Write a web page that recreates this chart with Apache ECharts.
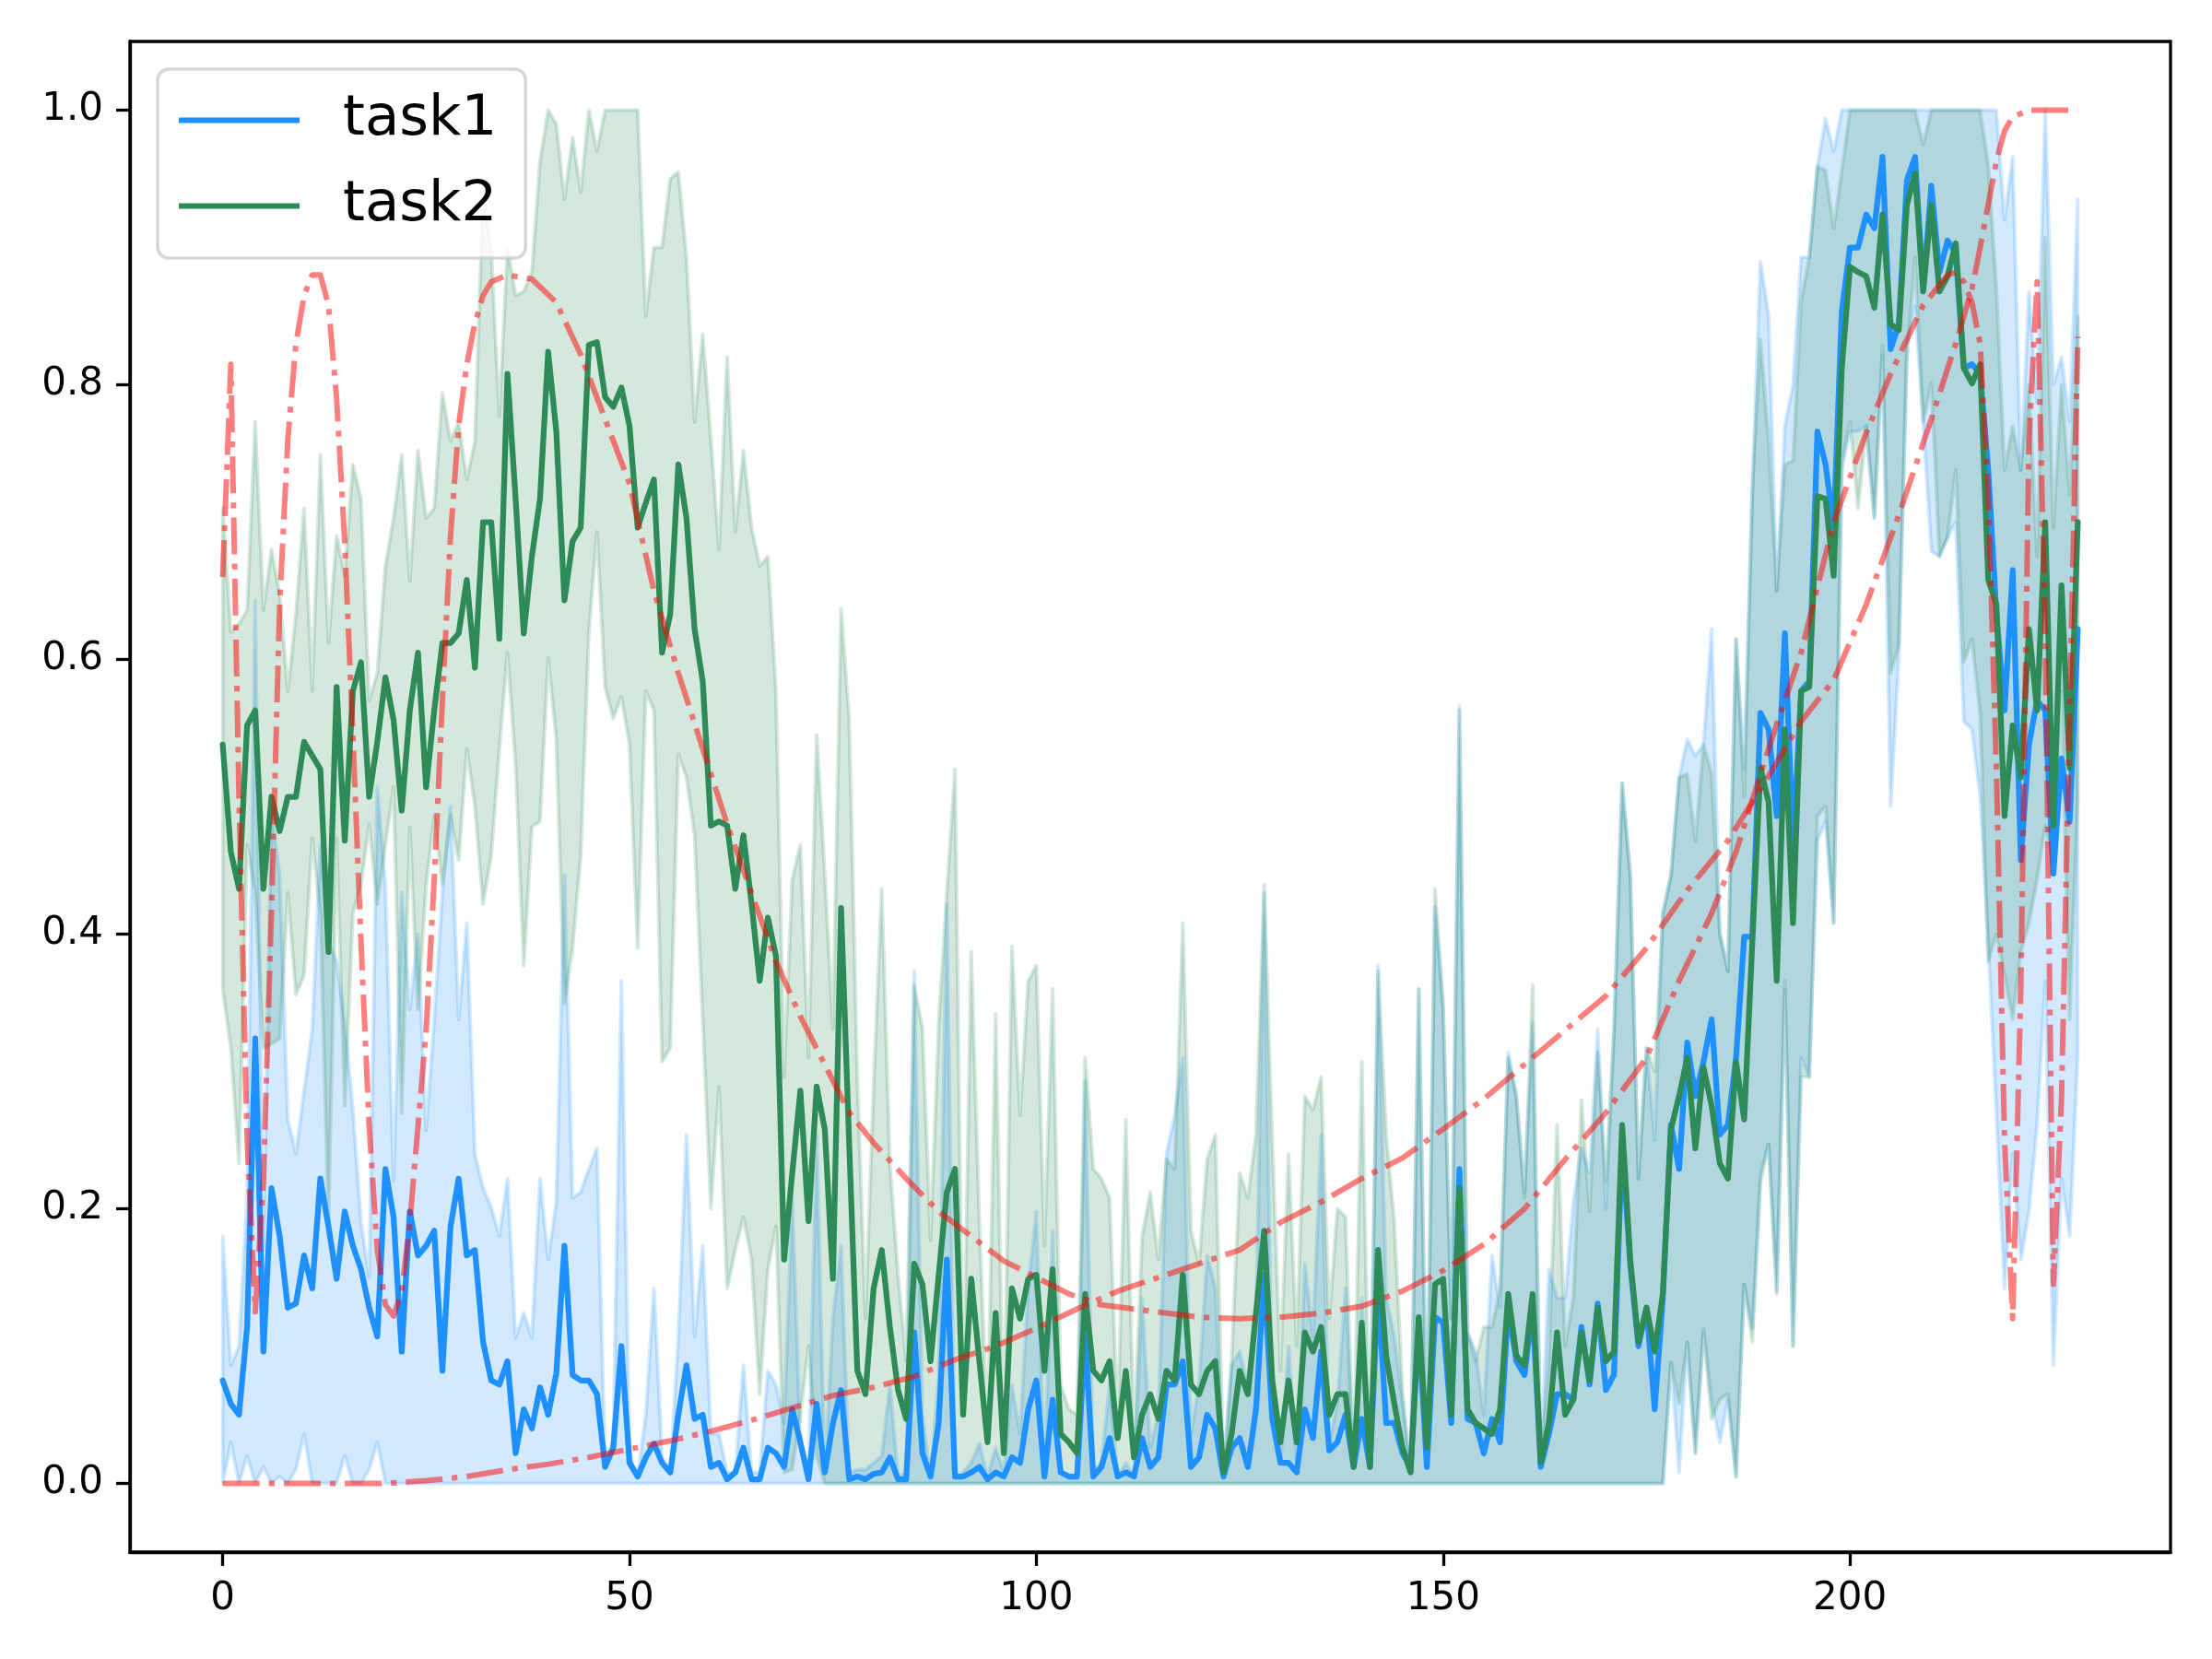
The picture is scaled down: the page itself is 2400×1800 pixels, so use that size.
<!DOCTYPE html>
<html>
<head>
<meta charset="utf-8">
<script src="https://cdn.jsdelivr.net/npm/echarts@6/dist/echarts.min.js"></script>
<style>
html,body{margin:0;padding:0;background:#ffffff;}
#chart{width:2400px;height:1800px;}
</style>
</head>
<body>
<div id="chart"></div>
<script>
// ---- data (x = step index 0..228) ----
const task1Mean = [
0.075,0.058,0.05,0.114,0.324,0.096,0.215,0.18,0.128,0.131,
0.166,0.142,0.222,0.187,0.149,0.198,0.173,0.156,0.128,0.107,
0.229,0.194,0.096,0.198,0.166,0.173,0.184,0.082,0.187,0.222,
0.166,0.17,0.103,0.075,0.072,0.089,0.022,0.054,0.04,0.07,
0.05,0.08,0.173,0.079,0.075,0.075,0.065,0.012,0.026,0.1,
0.015,0.005,0.019,0.029,0.015,0.008,0.05,0.086,0.047,0.05,
0.012,0.015,0.003,0.008,0.026,0.003,0.003,0.026,0.022,0.012,
0.054,0.03,0.003,0.058,0.008,0.044,0.068,0.003,0.005,0.003,
0.007,0.008,0.019,0.003,0.003,0.11,0.022,0.005,0.044,0.163,
0.005,0.005,0.008,0.012,0.003,0.008,0.005,0.019,0.015,0.054,
0.075,0.005,0.061,0.008,0.005,0.005,0.107,0.005,0.012,0.033,
0.005,0.008,0.005,0.033,0.012,0.019,0.072,0.072,0.089,0.012,
0.019,0.05,0.04,0.005,0.026,0.033,0.012,0.054,0.152,0.047,
0.015,0.015,0.008,0.054,0.033,0.096,0.024,0.03,0.05,0.012,
0.047,0.012,0.142,0.044,0.044,0.022,0.012,0.114,0.012,0.121,
0.117,0.044,0.229,0.047,0.044,0.022,0.047,0.03,0.128,0.089,
0.079,0.128,0.012,0.036,0.065,0.065,0.061,0.114,0.072,0.131,
0.068,0.079,0.247,0.159,0.1,0.128,0.054,0.135,0.261,0.229,
0.321,0.282,0.307,0.338,0.254,0.261,0.31,0.398,0.398,0.561,
0.549,0.486,0.619,0.465,0.577,0.584,0.766,0.742,0.696,0.854,
0.9,0.9,0.924,0.914,0.966,0.826,0.844,0.949,0.966,0.87,
0.945,0.882,0.905,0.896,0.812,0.815,0.808,0.738,0.633,0.563,
0.665,0.454,0.538,0.57,0.563,0.444,0.528,0.482,0.622];

const task1High = [
0.18,0.086,0.1,0.21,0.643,0.17,0.49,0.443,0.265,0.24,
0.286,0.33,0.465,0.394,0.38,0.335,0.272,0.19,0.15,0.507,
0.436,0.22,0.43,0.345,0.4,0.257,0.338,0.43,0.493,0.338,
0.408,0.24,0.215,0.201,0.18,0.222,0.106,0.124,0.106,0.222,
0.163,0.205,0.443,0.208,0.212,0.229,0.244,0.015,0.03,0.366,
0.022,0.005,0.05,0.142,0.019,0.008,0.107,0.254,0.107,0.173,
0.036,0.036,0.008,0.008,0.086,0.008,0.008,0.082,0.072,0.044,
0.208,0.03,0.008,0.254,0.008,0.12,0.173,0.008,0.01,0.01,
0.015,0.02,0.072,0.005,0.008,0.373,0.05,0.005,0.079,0.422,
0.005,0.008,0.015,0.029,0.005,0.026,0.008,0.072,0.036,0.142,
0.198,0.008,0.184,0.008,0.005,0.005,0.293,0.008,0.015,0.072,
0.005,0.015,0.005,0.135,0.026,0.05,0.24,0.268,0.31,0.036,
0.072,0.166,0.142,0.005,0.086,0.096,0.07,0.12,0.43,0.05,
0.015,0.1,0.015,0.16,0.107,0.254,0.03,0.058,0.142,0.012,
0.135,0.015,0.377,0.135,0.107,0.058,0.008,0.36,0.026,0.42,
0.345,0.12,0.566,0.11,0.096,0.05,0.166,0.128,0.314,0.282,
0.212,0.335,0.015,0.156,0.135,0.135,0.205,0.244,0.226,0.331,
0.2,0.33,0.51,0.443,0.222,0.317,0.25,0.415,0.443,0.514,
0.542,0.53,0.538,0.622,0.401,0.373,0.615,0.52,0.724,0.89,
0.85,0.65,0.77,0.8,0.893,0.893,0.959,0.994,0.97,1.0,
1.0,1.0,1.0,1.0,1.0,1.0,1.0,1.0,1.0,1.0,
1.0,1.0,1.0,1.0,1.0,1.0,1.0,1.0,1.0,0.92,
0.966,0.738,0.868,0.787,1.0,0.8,0.82,0.773,0.935];

const task1Low = [
0,0.03,0,0.02,0,0.012,0,0.005,0,0.01,
0.036,0,0,0,0,0.02,0,0,0.01,0.03,
0,0,0,0,0,0,0,0,0,0,
0,0,0,0,0,0,0,0,0,0,
0,0,0,0,0,0,0,0,0,0,
0,0,0,0,0,0,0,0,0,0,
0,0,0,0,0,0,0,0,0,0,
0,0,0,0,0,0,0,0,0,0,
0,0,0,0,0,0,0,0,0,0,
0,0,0,0,0,0,0,0,0,0,
0,0,0,0,0,0,0,0,0,0,
0,0,0,0,0,0,0,0,0,0,
0,0,0,0,0,0,0,0,0,0,
0,0,0,0,0,0,0,0,0,0,
0,0,0,0,0,0,0,0,0,0,
0,0,0,0,0,0,0,0,0,0,
0,0,0,0,0,0,0,0,0,0,
0,0,0,0,0,0,0,0,0.088,0.008,
0.103,0.022,0.113,0.061,0.03,0.061,0.005,0.145,0.113,0.226,
0.247,0.14,0.366,0.1,0.31,0.296,0.468,0.482,0.408,0.738,
0.766,0.766,0.77,0.703,0.822,0.493,0.6,0.829,0.857,0.773,
0.679,0.675,0.689,0.7,0.555,0.549,0.5,0.393,0.268,0.142,
0.24,0.163,0.198,0.261,0.366,0.086,0.222,0.18,0.31];

const task2Mean = [
0.538,0.46,0.433,0.552,0.563,0.433,0.5,0.475,0.5,0.5,
0.54,0.53,0.52,0.387,0.58,0.468,0.577,0.598,0.5,0.54,
0.587,0.556,0.49,0.563,0.605,0.507,0.563,0.612,0.612,0.619,
0.658,0.594,0.7,0.7,0.615,0.808,0.717,0.619,0.675,0.717,
0.824,0.766,0.643,0.686,0.696,0.829,0.831,0.791,0.784,0.798,
0.77,0.696,0.714,0.731,0.605,0.633,0.742,0.703,0.622,0.584,
0.479,0.482,0.479,0.433,0.472,0.422,0.366,0.412,0.384,0.163,
0.226,0.286,0.191,0.289,0.258,0.149,0.419,0.247,0.082,0.065,
0.142,0.17,0.114,0.068,0.047,0.16,0.145,0.089,0.152,0.212,
0.229,0.05,0.149,0.089,0.03,0.124,0.022,0.142,0.12,0.149,
0.152,0.082,0.156,0.036,0.03,0.022,0.138,0.082,0.075,0.089,
0.033,0.082,0.019,0.05,0.065,0.047,0.082,0.075,0.152,0.072,
0.065,0.082,0.089,0.008,0.036,0.082,0.065,0.124,0.184,0.075,
0.03,0.075,0.03,0.11,0.096,0.114,0.05,0.065,0.065,0.012,
0.117,0.012,0.17,0.093,0.058,0.026,0.008,0.121,0.026,0.145,
0.149,0.05,0.215,0.054,0.044,0.04,0.036,0.054,0.138,0.093,
0.086,0.138,0.015,0.044,0.11,0.05,0.061,0.11,0.075,0.128,
0.089,0.096,0.261,0.163,0.103,0.128,0.096,0.138,0.258,0.282,
0.31,0.244,0.303,0.275,0.233,0.222,0.307,0.265,0.394,0.521,
0.496,0.366,0.549,0.408,0.577,0.58,0.719,0.717,0.661,0.812,
0.886,0.882,0.879,0.856,0.924,0.844,0.84,0.931,0.954,0.868,
0.931,0.868,0.879,0.903,0.812,0.801,0.815,0.658,0.64,0.486,
0.552,0.514,0.622,0.563,0.7,0.479,0.654,0.521,0.7];

const task2High = [
0.71,0.62,0.626,0.636,0.773,0.636,0.68,0.647,0.577,0.633,
0.71,0.577,0.749,0.612,0.69,0.661,0.742,0.717,0.57,0.59,
0.668,0.703,0.749,0.657,0.752,0.703,0.71,0.794,0.759,0.773,
0.731,0.759,0.94,0.898,0.777,0.9,0.865,0.868,0.882,0.963,
1.0,0.99,0.935,0.98,0.94,1.0,0.97,1.0,1.0,1.0,
1.0,1.0,0.85,0.9,0.9,0.95,0.955,0.893,0.773,0.837,
0.76,0.68,0.82,0.693,0.752,0.696,0.668,0.675,0.577,0.296,
0.44,0.465,0.31,0.545,0.444,0.331,0.637,0.556,0.296,0.12,
0.289,0.433,0.233,0.152,0.089,0.363,0.331,0.177,0.335,0.43,
0.52,0.05,0.387,0.191,0.03,0.342,0.022,0.391,0.268,0.366,
0.377,0.173,0.36,0.072,0.054,0.05,0.31,0.229,0.222,0.208,
0.04,0.265,0.03,0.18,0.212,0.163,0.236,0.229,0.408,0.184,
0.16,0.236,0.254,0.008,0.089,0.226,0.208,0.254,0.436,0.25,
0.082,0.24,0.1,0.282,0.272,0.296,0.12,0.2,0.194,0.012,
0.307,0.015,0.373,0.254,0.19,0.068,0.008,0.36,0.026,0.433,
0.349,0.12,0.563,0.11,0.089,0.114,0.114,0.142,0.31,0.282,
0.208,0.363,0.018,0.093,0.261,0.1,0.135,0.279,0.198,0.314,
0.22,0.33,0.51,0.443,0.222,0.317,0.3,0.415,0.443,0.514,
0.517,0.468,0.538,0.517,0.401,0.373,0.615,0.5,0.724,0.833,
0.759,0.65,0.742,0.745,0.861,0.893,0.959,0.956,0.914,0.956,
1.0,1.0,1.0,1.0,1.0,1.0,1.0,1.0,1.0,0.975,
1.0,1.0,1.0,1.0,1.0,1.0,1.0,0.96,0.87,0.738,
0.77,0.738,0.8,0.675,0.907,0.696,0.8,0.72,0.85];

const task2Low = [
0.36,0.317,0.233,0.465,0.43,0.317,0.32,0.324,0.43,0.356,
0.37,0.47,0.415,0.19,0.47,0.275,0.415,0.436,0.48,0.422,
0.465,0.507,0.27,0.478,0.345,0.436,0.486,0.436,0.486,0.454,
0.535,0.493,0.422,0.457,0.535,0.605,0.524,0.377,0.478,0.482,
0.601,0.542,0.349,0.39,0.457,0.619,0.693,0.58,0.557,0.573,
0.538,0.39,0.577,0.563,0.307,0.317,0.531,0.514,0.472,0.338,
0.2,0.289,0.142,0.17,0.194,0.163,0.065,0.156,0.187,0.008,
0.01,0.05,0.1,0.02,0,0,0,0,0,0,
0,0,0,0,0,0,0,0,0,0,
0,0,0,0,0,0,0,0,0,0,
0,0,0,0,0,0,0,0,0,0,
0,0,0,0,0,0,0,0,0,0,
0,0,0,0,0,0,0,0,0,0,
0,0,0,0,0,0,0,0,0,0,
0,0,0,0,0,0,0,0,0,0,
0,0,0,0,0,0,0,0,0,0,
0,0,0,0,0,0,0,0,0,0,
0,0,0,0,0,0,0,0,0.088,0.058,
0.103,0.022,0.11,0.047,0.061,0.065,0.005,0.145,0.103,0.219,
0.247,0.138,0.36,0.1,0.296,0.296,0.486,0.493,0.408,0.745,
0.773,0.71,0.77,0.703,0.829,0.59,0.61,0.819,0.893,0.773,
0.801,0.675,0.689,0.738,0.598,0.615,0.56,0.38,0.4,0.37,
0.338,0.387,0.408,0.44,0.479,0.45,0.577,0.338,0.5];

// red dash-dot reference curves (x, y)
const refAX = [0,1,2,3,4,5,6,7,8,9,10,11,12,13,14,15,16,17,18,19,20,21,22,23,24,25,26,27,28,29,30,31,32,33,
35,38,41,44,47,50,53,56,59,62,65,68,71,74,77,80,84,88,92,96,100,104,108,112,116,120,
125,130,135,140,145,150,155,160,165,170,175,179,183,186,190,194,198,202,205,209,212,
213,214,215,216,217,218,219,220,221,222,223,224,225,226,227,228];
const refAY = [0.66,0.815,0.5,0.25,0.125,0.22,0.42,0.64,0.76,0.83,0.865,0.88,0.88,0.858,0.79,0.685,0.545,0.394,0.26,0.17,
0.13,0.122,0.14,0.19,0.26,0.33,0.44,0.57,0.69,0.77,0.815,0.845,0.865,0.875,
0.88,0.877,0.86,0.822,0.775,0.728,0.65,0.59,0.535,0.48,0.43,0.38,0.34,0.305,0.27,0.248,
0.222,0.198,0.18,0.162,0.15,0.138,0.13,0.127,0.124,0.121,
0.12,0.121,0.124,0.129,0.14,0.155,0.174,0.2,0.236,0.27,0.31,
0.366,0.415,0.46,0.535,0.605,0.7,0.765,0.808,0.858,0.88,
0.882,0.875,0.86,0.83,0.72,0.52,0.25,0.12,0.36,0.76,0.875,0.62,0.145,0.28,0.56,0.835];
const refBX = [0,20,25,30,35,40,45,50,55,60,65,70,75,80,85,90,95,100,105,110,115,120,
125,130,135,140,145,150,155,160,165,170,175,180,185,190,194,198,202,206,210,213,215,216,218,219,220,222,228];
const refBY = [0,0,0.002,0.005,0.01,0.014,0.019,0.025,0.031,0.038,0.046,0.055,0.064,0.07,0.078,0.09,0.1,0.113,0.127,0.14,0.15,0.16,
0.17,0.19,0.205,0.222,0.237,0.258,0.28,0.305,0.33,0.355,0.39,0.432,0.468,0.515,0.555,0.585,0.64,0.705,0.775,0.83,0.87,0.9,0.963,0.985,0.995,1.0,1.0];

const xTicks = [0, 50, 100, 150, 200];
const yTicks = [0.0, 0.2, 0.4, 0.6, 0.8, 1.0];
const seriesNames = ['task1', 'task2'];

// ---- build options ----
const FONT = 'DejaVu Sans';
const BLUE = '#1E90FF', GREEN = '#2E8B57';
const chart = echarts.init(document.getElementById('chart'), null, {renderer: 'canvas', width: 2400, height: 1800});

function toPairs(values) { return values.map((v, i) => [i, v]); }
function zipPairs(xs, ys) { return xs.map((x, i) => [x, ys[i]]); }
function bandRows(lo, hi) { return lo.map((v, i) => [i, v, hi[i]]); }

function bandSeries(rows, rgba, z) {
  return {
    type: 'custom', z: z, silent: true, clip: true,
    data: rows,
    encode: {x: 0, y: [1, 2]},
    renderItem: function (params, api) {
      if (params.dataIndex !== 0) return null;
      const pts = [];
      for (let k = 0; k < rows.length; k++) pts.push(api.coord([rows[k][0], rows[k][2]]));
      for (let k = rows.length - 1; k >= 0; k--) pts.push(api.coord([rows[k][0], rows[k][1]]));
      return {
        type: 'polygon',
        shape: {points: pts},
        style: {fill: rgba, stroke: rgba, lineWidth: 4, lineJoin: 'round'}
      };
    }
  };
}

function meanSeries(name, values, color) {
  return {
    type: 'line', name: name, data: toPairs(values), z: 3,
    symbol: 'none', showSymbol: false, silent: true,
    lineStyle: {color: color, width: 6.25, join: 'round', cap: 'round'},
    itemStyle: {color: color}
  };
}

function refSeries(xs, ys) {
  return {
    type: 'line', data: zipPairs(xs, ys), z: 4,
    symbol: 'none', showSymbol: false, silent: true,
    lineStyle: {color: 'rgba(255,0,0,0.5)', width: 6, type: [40, 10, 6.25, 10], cap: 'butt', join: 'round'},
    itemStyle: {color: 'rgba(255,0,0,0.5)'}
  };
}

const axisCommon = {
  axisLine: {show: true, onZero: false, lineStyle: {color: '#000', width: 3.3}},
  axisTick: {show: true, inside: false, length: 15, lineStyle: {color: '#000', width: 3.3}},
  splitLine: {show: false}
};

const option = {
  animation: false,
  backgroundColor: '#ffffff',
  textStyle: {fontFamily: FONT},
  grid: {left: 141, right: 45, top: 45, bottom: 116, show: true, borderColor: '#000', borderWidth: 3.3, containLabel: false},
  legend: {
    data: seriesNames,
    orient: 'vertical',
    left: 171, top: 75,
    padding: [25, 31, 26, 23],
    itemGap: 32,
    itemWidth: 131, itemHeight: 6,
    icon: 'rect',
    backgroundColor: 'rgba(255,255,255,0.8)',
    borderColor: 'rgba(204,204,204,0.8)',
    borderWidth: 3.5,
    borderRadius: 12,
    selectedMode: false,
    textStyle: {fontFamily: FONT, fontSize: 61, color: '#000', lineHeight: 60, padding: [0, 0, 0, 42]}
  },
  xAxis: Object.assign({
    type: 'value', min: -11.4, max: 239.4,
    axisLabel: {customValues: xTicks, fontFamily: FONT, fontSize: 42, color: '#000', margin: 30}
  }, axisCommon, {axisTick: Object.assign({}, axisCommon.axisTick, {customValues: xTicks})}),
  yAxis: Object.assign({
    type: 'value', min: -0.05, max: 1.05,
    axisLabel: {customValues: yTicks, fontFamily: FONT, fontSize: 42, color: '#000', margin: 29,
      formatter: function (v) { return Number(v).toFixed(1); }}
  }, axisCommon, {axisTick: Object.assign({}, axisCommon.axisTick, {customValues: yTicks})}),
  series: [
    bandSeries(bandRows(task1Low, task1High), 'rgba(30,144,255,0.2)', 1),
    bandSeries(bandRows(task2Low, task2High), 'rgba(46,139,87,0.2)', 1),
    meanSeries('task1', task1Mean, BLUE),
    meanSeries('task2', task2Mean, GREEN),
    refSeries(refAX, refAY),
    refSeries(refBX, refBY)
  ]
};
chart.setOption(option);
</script>
</body>
</html>
